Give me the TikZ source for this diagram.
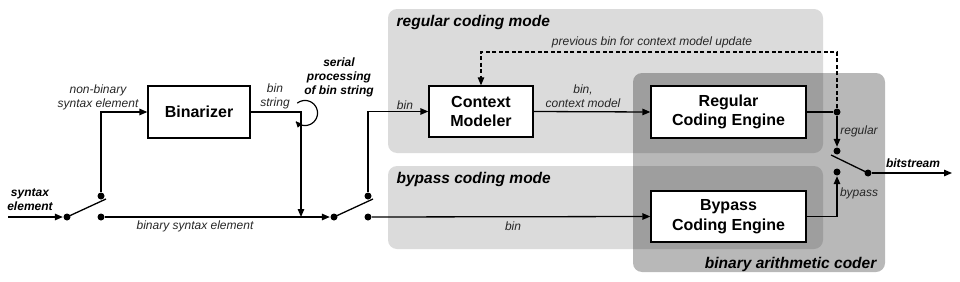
\documentclass[tikz,border=0pt]{standalone}
\usepackage{fontspec}
\setmainfont{Liberation Sans}
\usetikzlibrary{arrows.meta}
\begin{document}
\begin{tikzpicture}[x=1pt,y=-1pt,
  line width=1.3pt,
  arr/.style={-{Triangle[length=8pt,width=6.5pt]}},
  boxn/.style={draw=black,fill=white,line width=1.3pt,align=center,inner sep=0pt,
    font=\fontsize{16}{19.5}\selectfont\bfseries},
  dotn/.style={circle,fill=black,inner sep=0pt,minimum size=7pt},
  lab/.style={font=\fontsize{12}{14}\selectfont\itshape,text=black!85,align=center,inner sep=0pt},
  blab/.style={font=\fontsize{12}{14}\selectfont\bfseries\itshape,align=center,inner sep=0pt},
  head/.style={font=\fontsize{15.5}{18}\selectfont\bfseries\itshape,inner sep=0pt},
  region/.style={fill=black,draw=none,rounded corners=9pt}
]
\useasboundingbox (0,0) rectangle (960,281);
% regions
\fill[region,fill opacity=0.28] (633,73) rectangle (885,272);
\fill[region,fill opacity=0.14] (388,9) rectangle (823,153);
\fill[region,fill opacity=0.14] (388,166) rectangle (823,249);
\node[head,anchor=base west] (hreg) at (396,26) {regular coding mode};
\node[head,anchor=base west] (hbyp) at (396,183) {bypass coding mode};
\node[head,anchor=base east] (hbac) at (877,268) {binary arithmetic coder};
% boxes
\node[boxn,minimum width=102pt,minimum height=52pt] (binz) at (199,112) {Binarizer};
\node[boxn,minimum width=104pt,minimum height=51pt] (cm) at (481,111.5) {Context\\Modeler};
\node[boxn,minimum width=155pt,minimum height=52pt] (rce) at (728.5,112) {Regular\\Coding Engine};
\node[boxn,minimum width=155pt,minimum height=51pt] (bce) at (728.5,216.5) {Bypass\\Coding Engine};
% dots
\node[dotn] (d1) at (67,217) {};
\node[dotn] (d2) at (101,196) {};
\node[dotn] (d3) at (101,217) {};
\node[dotn] (d4) at (334,217) {};
\node[dotn] (d5) at (368,196) {};
\node[dotn] (d6) at (368,217) {};
\node[dotn] (d7) at (837,112) {};
\node[dotn] (d8) at (837,151) {};
\node[dotn] (d9) at (837,172) {};
\node[dotn] (d10) at (868,173) {};
\coordinate (in) at (8,217);
\coordinate (out) at (952,173);
\coordinate (l1) at (106,199);
\coordinate (l2) at (373,199);
\coordinate (l3) at (831,155);
\coordinate (j1) at (301,217);
\coordinate (fb) at (837,52);
% connectors
\draw[arr] (in) -- (d1);
\draw (d1.center) -- (l1);
\draw[arr] (d2) |- (binz.west);
\draw[arr] (d3) -- (d4);
\draw[arr] (binz.east) -| (j1);
\draw[line width=1.2pt,-{Triangle[length=6pt,width=5.5pt]}] plot[domain=232:498,samples=50,smooth] ({305+12.5*cos(\x)},{113+12.5*sin(\x)});
\draw (d4.center) -- (l2);
\draw[arr] (d5) |- (cm.west);
\draw[arr] (d6) -- (bce.west);
\draw[arr] (cm.east) -- (rce.west);
\draw (rce.east) -- (d7);
\draw[arr] (d7) -- (d8);
\draw[arr,dashed,line width=1.1pt,dash pattern=on 4pt off 2.5pt] (d7) -- (fb) -| (cm.north);
\draw[arr] (bce.east) -| (d9);
\draw (d10.center) -- (l3);
\draw[arr] (d10) -- (out);
% labels
\node[blab] (tse) at (30,200) {syntax\\element};
\node[lab] (tnb) at (98,97) {non-binary\\syntax element};
\node[lab] (tbs) at (275,96) {bin\\string};
\node[blab] (tsp) at (339,77) {serial\\processing\\of bin string};
\node[lab] (tbse) at (195,226) {binary syntax element};
\node[lab] (tb1) at (405,105) {bin};
\node[lab] (tbcm) at (583,96) {bin,\\context model};
\node[lab] (tprev) at (652,42) {previous bin for context model update};
\node[lab] (tb2) at (513,226) {bin};
\node[lab] (treg) at (859,131) {regular};
\node[lab] (tbyp) at (859,193) {bypass};
\node[blab] (tbit) at (913,163) {bitstream};
\end{tikzpicture}
\end{document}
